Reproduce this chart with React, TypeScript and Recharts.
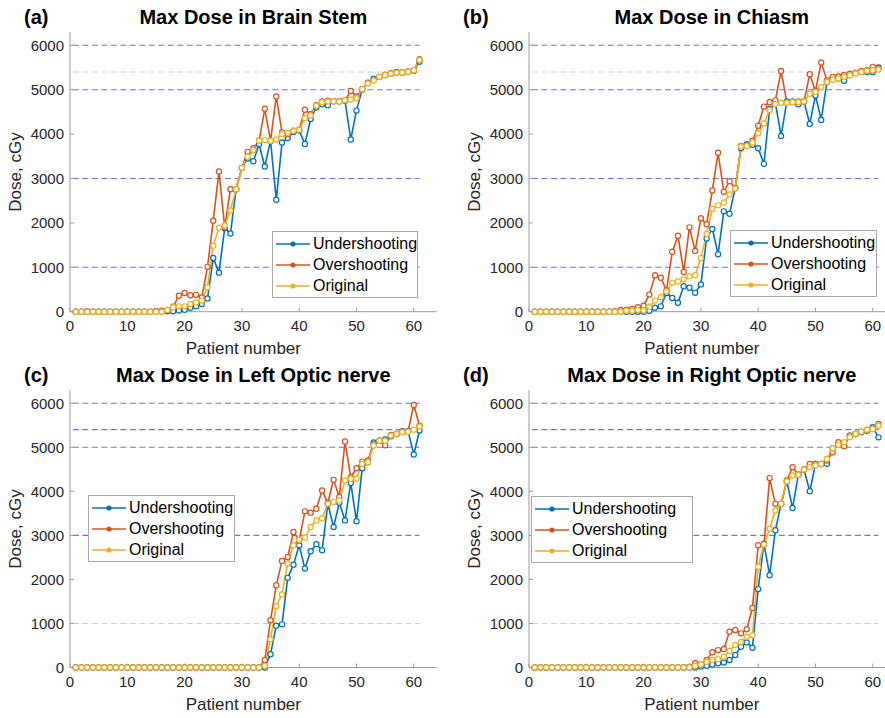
import React from 'react';
import { LineChart, Line, XAxis, YAxis, ReferenceLine } from 'recharts';

// patient index on the x axis
const PATIENTS = Array.from({ length: 61 }, (_, i) => i + 1);

// Max dose (cGy) per patient, brain stem
const STEM_UNDER = [
  0, 0, 0, 0, 0, 0, 0, 0, 0, 0,
  0, 0, 0, 0, 5, 5, 10, 10, 25, 45,
  90, 120, 175, 300, 1210, 880, 1880, 1760, 2760, 3240,
  3450, 3390, 3770, 3270, 3850, 2520, 3810, 3910, 4050, 4080,
  3780, 4340, 4600, 4670, 4650, 4740, 4740, 4750, 3880, 4530,
  5010, 5160, 5250, 5290, 5330, 5360, 5380, 5390, 5400, 5430,
  5630,
];
const STEM_OVER = [
  0, 0, 10, 0, 0, 0, 0, 0, 0, 0,
  0, 0, 0, 0, 10, 20, 40, 110, 360, 420,
  370, 380, 320, 1010, 2050, 3160, 1900, 2760, 2760, 3240,
  3600, 3680, 3850, 4570, 3850, 4850, 4040, 3990, 4075, 4100,
  4550, 4450, 4650, 4735, 4750, 4740, 4740, 4760, 4970, 4850,
  5010, 5150, 5220, 5290, 5330, 5370, 5400, 5390, 5410, 5440,
  5690,
];
const STEM_ORIG = [
  0, 0, 0, 0, 0, 0, 0, 0, 0, 0,
  0, 0, 0, 0, 0, 0, 40, 100, 120, 120,
  175, 210, 250, 550, 1485, 1890, 1940, 2280, 2760, 3240,
  3490, 3640, 3850, 3865, 3850, 3880, 4000, 4030, 4075, 4100,
  4360, 4420, 4640, 4720, 4735, 4740, 4735, 4760, 4780, 4810,
  5010, 5140, 5210, 5290, 5330, 5360, 5380, 5390, 5400, 5440,
  5670,
];

// chiasm
const CHIASM_UNDER = [
  0, 0, 0, 0, 0, 0, 0, 0, 0, 0,
  0, 0, 0, 0, 0, 0, 0, 0, 0, 0,
  20, 90, 120, 420, 310, 200, 575, 540, 425, 615,
  1650, 1865, 1295, 2260, 2205, 2790, 3680, 3770, 3760, 3680,
  3330, 4570, 4700, 3960, 4735, 4735, 4670, 4735, 4230, 4870,
  4320, 5175, 5270, 5250, 5200, 5330, 5380, 5400, 5400, 5400,
  5500,
];
const CHIASM_OVER = [
  0, 0, 0, 0, 0, 0, 0, 0, 0, 0,
  0, 0, 0, 0, 10, 40, 45, 60, 100, 135,
  385, 820, 765, 480, 1350, 1710, 895, 1900, 1370, 2105,
  1970, 2730, 3580, 2700, 2940, 2780, 3735, 3740, 3850, 4190,
  4620, 4720, 4760, 5420, 4720, 4720, 4735, 4735, 5350, 4970,
  5615, 5210, 5290, 5300, 5330, 5360, 5380, 5420, 5440, 5515,
  5480,
];
const CHIASM_ORIG = [
  0, 0, 0, 0, 0, 0, 0, 0, 0, 0,
  0, 0, 0, 0, 0, 0, 20, 20, 40, 25,
  110, 250, 325, 455, 650, 680, 725, 795, 820, 1210,
  1750, 2320, 2395, 2460, 2640, 2775, 3720, 3735, 3810, 4020,
  4240, 4545, 4680, 4705, 4705, 4720, 4720, 4735, 4910, 4950,
  5060, 5175, 5225, 5250, 5290, 5325, 5365, 5400, 5425, 5440,
  5455,
];

// left optic nerve
const LEFT_ON_UNDER = [
  0, 0, 0, 0, 0, 0, 0, 0, 0, 0,
  0, 0, 0, 0, 0, 0, 0, 0, 0, 0,
  0, 0, 0, 0, 0, 0, 0, 0, 0, 0,
  0, 0, 0, 0, 300, 950, 980, 2035, 2335, 2775,
  2245, 2640, 2800, 2660, 3720, 3190, 3740, 3340, 4190, 3320,
  4525, 4660, 5110, 5150, 5175, 5250, 5300, 5365, 5370, 4835,
  5380,
];
const LEFT_ON_OVER = [
  0, 0, 0, 0, 0, 0, 0, 0, 0, 0,
  0, 0, 0, 0, 0, 0, 0, 0, 0, 0,
  0, 0, 0, 0, 0, 0, 0, 0, 0, 0,
  0, 0, 0, 170, 1075, 1870, 2420, 2510, 3075, 2890,
  3545, 3515, 3605, 4020, 3740, 4260, 3870, 5130, 4320, 4525,
  4675, 4700, 5070, 5150, 5045, 5280, 5300, 5355, 5360, 5960,
  5490,
];
const LEFT_ON_ORIG = [
  0, 0, 0, 0, 0, 0, 0, 0, 0, 0,
  0, 0, 0, 0, 0, 0, 0, 0, 0, 0,
  0, 0, 0, 0, 0, 0, 0, 0, 0, 0,
  0, 0, 0, 40, 640, 1390, 1660, 2360, 2775, 2900,
  2950, 3190, 3340, 3390, 3720, 3755, 3790, 4245, 4285, 4285,
  4620, 4660, 5040, 5150, 5150, 5265, 5300, 5340, 5355, 5400,
  5470,
];

// right optic nerve
const RIGHT_ON_UNDER = [
  0, 0, 0, 0, 0, 0, 0, 0, 0, 0,
  0, 0, 0, 0, 0, 0, 0, 0, 0, 0,
  0, 0, 0, 0, 0, 0, 0, 0, 0, 20,
  40, 70, 95, 115, 170, 285, 470, 570, 450, 1780,
  2810, 2095, 3115, 3715, 4225, 3620, 4375, 4495, 4000, 4620,
  4620, 4625, 4975, 5075, 5040, 5265, 5300, 5340, 5375, 5455,
  5225,
];
const RIGHT_ON_OVER = [
  0, 0, 0, 0, 0, 0, 0, 0, 0, 0,
  0, 0, 0, 0, 0, 0, 0, 0, 0, 0,
  0, 0, 0, 0, 0, 0, 0, 20, 95, 70,
  170, 345, 395, 420, 810, 850, 775, 870, 1350, 2775,
  2790, 4300, 3715, 3715, 4245, 4545, 4375, 4495, 4620, 4620,
  4620, 4700, 4885, 5115, 5025, 5265, 5300, 5355, 5400, 5415,
  5530,
];
const RIGHT_ON_ORIG = [
  0, 0, 0, 0, 0, 0, 0, 0, 0, 0,
  0, 0, 0, 0, 0, 0, 0, 0, 0, 0,
  0, 0, 0, 0, 0, 0, 0, 0, 40, 70,
  130, 170, 190, 245, 375, 510, 580, 700, 735, 2285,
  2790, 3150, 3565, 3715, 4225, 4360, 4375, 4495, 4545, 4585,
  4620, 4735, 4975, 5055, 5115, 5225, 5300, 5355, 5400, 5415,
  5490,
];

const X_TICKS = [0, 10, 20, 30, 40, 50, 60];
const Y_TICKS = [0, 1000, 2000, 3000, 4000, 5000, 6000];
const DOSE_LEVELS = [6000, 5400, 5000, 3000, 1000];

const FONT = "'Liberation Sans', Arial, sans-serif";
const TEXT = '#262626';
const AXIS = '#9a9a9a';
const DASH_DARK = '#6f6ff3';
const DASH_LIGHT = '#c9c9f6';

const SERIES = [
  { key: 'under', name: 'Undershooting', color: '#0072BD' },
  { key: 'over', name: 'Overshooting', color: '#D95319' },
  { key: 'orig', name: 'Original', color: '#EDB120' },
];

const PLOT_W = 366.7;

function SeriesKey({ x, y, w }) {
  return (
    <div
      style={{
        position: 'absolute',
        left: x,
        top: y,
        width: w,
        boxSizing: 'border-box',
        border: '1px solid #a8a8a8',
        background: '#fff',
        padding: '1px 0',
        fontFamily: FONT,
        fontSize: 16,
        color: '#000',
      }}
    >
      {SERIES.map((s) => (
        <div key={s.key} style={{ display: 'flex', alignItems: 'center', height: 21 }}>
          <svg width={40} height={10} style={{ flex: 'none' }}>
            <line x1={3} x2={37} y1={5} y2={5} stroke={s.color} strokeWidth={1.6} />
            <circle cx={20} cy={5} r={2.6} fill={s.color} />
          </svg>
          <span style={{ lineHeight: '21px', whiteSpace: 'nowrap' }}>{s.name}</span>
        </div>
      ))}
    </div>
  );
}

function DosePanel({ tag, title, under, over, orig, left, top, plotH, lightLevels, tagX, legendBox }) {
  const rows = PATIENTS.map((p, i) => ({ p, under: under[i], over: over[i], orig: orig[i] }));
  const plotTop = 32;
  const bottomMargin = 360 - plotTop - plotH - 30;
  return (
    <div style={{ position: 'absolute', left, top, width: 442, height: 360 }}>
      <LineChart
        width={442}
        height={360}
        data={rows}
        margin={{ top: plotTop, right: 442 - 70 - PLOT_W, bottom: bottomMargin, left: 10 }}
      >
        <XAxis
          dataKey="p"
          type="number"
          domain={[0, 64]}
          ticks={X_TICKS}
          interval={0}
          height={30}
          stroke={AXIS}
          tickSize={-4}
          tickMargin={13}
          tick={{ fill: TEXT, fontSize: 15, fontFamily: FONT }}
        />
        <YAxis
          type="number"
          domain={[0, 6300]}
          ticks={Y_TICKS}
          interval={0}
          width={60}
          stroke={AXIS}
          tickSize={-4}
          tickMargin={10}
          tick={{ fill: TEXT, fontSize: 15, fontFamily: FONT }}
        />
        {DOSE_LEVELS.map((lv) => (
          <ReferenceLine
            key={lv}
            segment={[{ x: 0.5, y: lv }, { x: 61, y: lv }]}
            stroke={lightLevels.includes(lv) ? DASH_LIGHT : DASH_DARK}
            strokeWidth={1.1}
            strokeDasharray="6 3.5"
          />
        ))}
        {SERIES.map((s) => (
          <Line
            key={s.key}
            type="linear"
            dataKey={s.key}
            name={s.name}
            stroke={s.color}
            strokeWidth={1.6}
            dot={{ r: 2.6, strokeWidth: 1.2, fill: '#fff', stroke: s.color }}
            activeDot={false}
            isAnimationActive={false}
          />
        ))}
      </LineChart>

      <SeriesKey x={legendBox.x} y={legendBox.y} w={legendBox.w} />

      {/* panel tag, title and axis names */}
      <div
        style={{
          position: 'absolute',
          left: tagX,
          top: plotTop - 15,
          transform: 'translateY(-50%)',
          fontFamily: FONT,
          fontWeight: 'bold',
          fontSize: 20,
          color: '#000',
        }}
      >
        {tag}
      </div>
      <div
        style={{
          position: 'absolute',
          left: 70,
          width: PLOT_W,
          top: plotTop - 15,
          transform: 'translateY(-50%)',
          textAlign: 'center',
          fontFamily: FONT,
          fontWeight: 'bold',
          fontSize: 20,
          color: '#000',
          whiteSpace: 'nowrap',
        }}
      >
        {title}
      </div>
      <div
        style={{
          position: 'absolute',
          left: 16,
          top: plotTop + plotH / 2,
          transform: 'translate(-50%, -50%) rotate(-90deg)',
          fontFamily: FONT,
          fontSize: 17,
          color: TEXT,
          whiteSpace: 'nowrap',
        }}
      >
        Dose, cGy
      </div>
      <div
        style={{
          position: 'absolute',
          left: 70,
          width: PLOT_W - 20,
          top: plotTop + plotH + 37,
          transform: 'translateY(-50%)',
          textAlign: 'center',
          fontFamily: FONT,
          fontSize: 17,
          color: TEXT,
        }}
      >
        Patient number
      </div>
    </div>
  );
}

export default function App() {
  return (
    <div
      style={{
        position: 'absolute',
        left: 0,
        top: 0,
        width: 885,
        height: 718,
        overflow: 'hidden',
        background: '#fff',
      }}
    >
      <DosePanel
        tag="(a)"
        title="Max Dose in Brain Stem"
        under={STEM_UNDER}
        over={STEM_OVER}
        orig={STEM_ORIG}
        left={0}
        top={0}
        plotH={279.7}
        lightLevels={[5400]}
        tagX={24}
        legendBox={{ x: 272, y: 231, w: 146 }}
      />
      <DosePanel
        tag="(b)"
        title="Max Dose in Chiasm"
        under={CHIASM_UNDER}
        over={CHIASM_OVER}
        orig={CHIASM_ORIG}
        left={458.5}
        top={0}
        plotH={279.7}
        lightLevels={[5400]}
        tagX={4.5}
        legendBox={{ x: 271.5, y: 230, w: 147 }}
      />
      <DosePanel
        tag="(c)"
        title="Max Dose in Left Optic nerve"
        under={LEFT_ON_UNDER}
        over={LEFT_ON_OVER}
        orig={LEFT_ON_ORIG}
        left={0}
        top={358}
        plotH={277.5}
        lightLevels={[1000]}
        tagX={24}
        legendBox={{ x: 88, y: 137, w: 147 }}
      />
      <DosePanel
        tag="(d)"
        title="Max Dose in Right Optic nerve"
        under={RIGHT_ON_UNDER}
        over={RIGHT_ON_OVER}
        orig={RIGHT_ON_ORIG}
        left={458.5}
        top={358}
        plotH={277.5}
        lightLevels={[1000]}
        tagX={4.5}
        legendBox={{ x: 72.5, y: 138, w: 162 }}
      />
    </div>
  );
}
